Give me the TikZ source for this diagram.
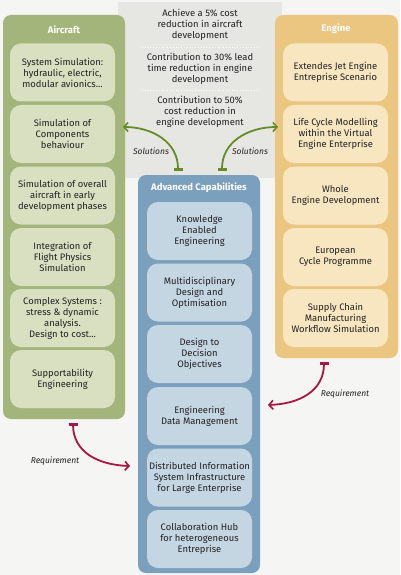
\documentclass[tikz,border=0pt]{standalone}
\usepackage{fontspec}
\setmainfont{Fira Sans}
\usetikzlibrary{arrows.meta}
\definecolor{bgc}{HTML}{F5F5F3}
\definecolor{grayp}{HTML}{E6E6E3}
\definecolor{greenp}{HTML}{A4B57B}
\definecolor{greeni}{HTML}{D8E0C1}
\definecolor{orangep}{HTML}{EBC680}
\definecolor{orangei}{HTML}{F8E6C1}
\definecolor{bluep}{HTML}{7BA0BD}
\definecolor{bluei}{HTML}{C5D6E3}
\definecolor{garrow}{HTML}{648C28}
\definecolor{rarrow}{HTML}{AA1446}
\definecolor{txt}{HTML}{222222}
\tikzset{
  panel/.style={rounded corners=8pt, minimum width=#1, inner sep=0pt},
  ibox/.style={rounded corners=11pt, minimum width=105pt, minimum height=58pt, inner sep=0pt,
    align=center, font=\fontsize{9.4}{11}\selectfont, text=txt},
  ptitle/.style={font=\fontsize{9.5}{11}\selectfont\bfseries, text=white},
  goal/.style={align=center, font=\fontsize{9.4}{11}\selectfont, text=txt},
  lbl/.style={font=\fontsize{8.5}{10}\selectfont\itshape, text=txt},
  solarrow/.style={draw=garrow, line width=1.8pt, {Bar[width=9pt,line width=3pt]}-{Straight Barb[length=4pt,width=9pt,line width=1.6pt]}},
  reqarrow/.style={draw=rarrow, line width=1.8pt, {Bar[width=9pt,line width=3pt]}-{Straight Barb[length=4pt,width=9pt,line width=1.6pt]}},
}
\begin{document}
\begin{tikzpicture}[x=1pt,y=-1pt]
\fill[bgc] (0,0) rectangle (400,575);
\useasboundingbox (0,0) rectangle (400,575);
% goals panel
\node[fill=grayp, minimum width=164pt, minimum height=176pt, inner sep=0pt] (goals) at (200,90) {};
\node[goal] (g1) at (200,25) {Achieve a 5\% cost\\reduction in aircraft\\development};
\node[goal] (g2) at (200,68.5) {Contribution to 30\% lead\\time reduction in engine\\development};
\node[goal] (g3) at (200,112) {Contribution to 50\%\\cost reduction in\\engine development};
\coordinate (d1a) at (142,47); \coordinate (d1b) at (258,47);
\coordinate (d2a) at (142,90); \coordinate (d2b) at (258,90);
\draw[white, dotted, line width=0.8pt] (d1a) -- (d1b);
\draw[white, dotted, line width=0.8pt] (d2a) -- (d2b);
% aircraft
\node[panel=122pt, minimum height=404pt, fill=greenp] (air) at (64,217) {};
\node[ptitle] (airt) at (64,30) {Aircraft};
\node[ibox, fill=greeni] (a1) at (62.5,72.5) {System Simulation:\\hydraulic, electric,\\modular avionics...};
\node[ibox, fill=greeni] (a2) at (62.5,134) {Simulation of\\Components\\behaviour};
\node[ibox, fill=greeni] (a3) at (62.5,195.5) {Simulation of overall\\aircraft in early\\development phases};
\node[ibox, fill=greeni] (a4) at (62.5,257) {Integration of\\Flight Physics\\Simulation};
\node[ibox, fill=greeni] (a5) at (62.5,318) {Complex Systems :\\stress \& dynamic\\analysis.\\Design to cost...};
\node[ibox, fill=greeni] (a6) at (62.5,379) {Supportability\\Engineering};
% engine
\node[panel=123pt, minimum height=343pt, fill=orangep] (eng) at (336.5,186.5) {};
\node[ptitle] (engt) at (336,29) {Engine};
\node[ibox, fill=orangei] (e1) at (335.5,72.5) {Extendes Jet Engine\\Entreprise Scenario};
\node[ibox, fill=orangei] (e2) at (335.5,134) {Life Cycle Modelling\\within the Virtual\\Engine Enterprise};
\node[ibox, fill=orangei] (e3) at (335.5,195.5) {Whole\\Engine Development};
\node[ibox, fill=orangei] (e4) at (335.5,257) {European\\Cycle Programme};
\node[ibox, fill=orangei] (e5) at (335.5,318) {Supply Chain\\Manufacturing\\Workflow Simulation};
% advanced
\node[panel=122pt, minimum height=398pt, fill=bluep] (adv) at (199,374) {};
\node[ptitle] (advt) at (199,188) {Advanced Capabilities};
\node[ibox, fill=bluei] (c1) at (199.5,231) {Knowledge\\Enabled\\Engineering};
\node[ibox, fill=bluei] (c2) at (199.5,292.5) {Multidisciplinary\\Design and\\Optimisation};
\node[ibox, fill=bluei] (c3) at (199.5,354) {Design to\\Decision\\Objectives};
\node[ibox, fill=bluei] (c4) at (199.5,416) {Engineering\\Data Management};
\node[ibox, fill=bluei] (c5) at (199.5,477.5) {Distributed Information\\System Infrastructure\\for Large Enterprise};
\node[ibox, fill=bluei] (c6) at (199.5,539) {Collaboration Hub\\for heterogeneous\\Entreprise};
% connectors
\coordinate (s1) at (178,170.5);
\coordinate (s1e) at (123,127);
\coordinate (s2) at (222,170.5);
\coordinate (s2e) at (278,127);
\draw[solarrow] (s1) .. controls (178,142) and (152,127) .. (s1e);
\draw[solarrow] (s2) .. controls (222,142) and (248,127) .. (s2e);
\node[lbl] (sl1) at (151,151) {Solutions};
\node[lbl] (sl2) at (250,151) {Solutions};
\coordinate (r1) at (73,422.5);
\coordinate (r1e) at (130,466);
\coordinate (r2) at (324,361.5);
\coordinate (r2e) at (268,405);
\draw[reqarrow] (r1) .. controls (73,452) and (98,465) .. (r1e);
\draw[reqarrow] (r2) .. controls (324,392) and (298,404) .. (r2e);
\node[lbl] (rl1) at (55,461) {Requirement};
\node[lbl] (rl2) at (345,394) {Requirement};
\end{tikzpicture}
\end{document}
